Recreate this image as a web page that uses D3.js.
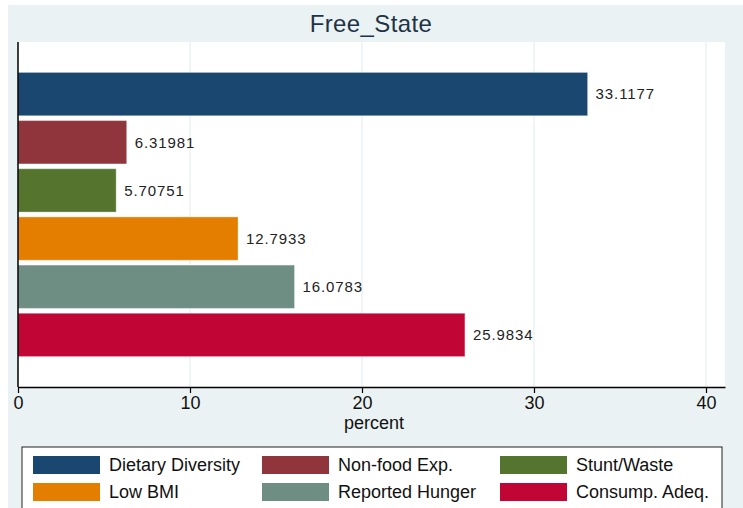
<!DOCTYPE html>
<html>
<head>
<meta charset="UTF-8">
<title>Free_State</title>
<script src="https://cdn.jsdelivr.net/npm/d3@7"></script>
<style>
  body { margin: 0; background: #fff; }
  text { font-family: "Liberation Sans", Arial, sans-serif; }
</style>
</head>
<body>
<div id="chart"></div>
<script>
// data
const categories = ["Dietary Diversity", "Non-food Exp.", "Stunt/Waste", "Low BMI", "Reported Hunger", "Consump. Adeq."];
const values = [33.1177, 6.31981, 5.70751, 12.7933, 16.0783, 25.9834];
const labels = ["33.1177", "6.31981", "5.70751", "12.7933", "16.0783", "25.9834"];
const colors = ["#1a476f", "#90353b", "#55752f", "#e37e00", "#6e8e84", "#c10534"];
const xTicks = [0, 10, 20, 30, 40];

const W = 743, H = 508;
const plot = { left: 18, right: 725, top: 42, bottom: 387 };

const svg = d3.select("#chart").append("svg")
    .attr("width", W).attr("height", H);

// outer light panel
svg.append("rect")
    .attr("x", 8).attr("y", 5)
    .attr("width", W - 8).attr("height", H - 5)
    .attr("fill", "#eaf2f3");

// plot area
svg.append("rect")
    .attr("x", plot.left).attr("y", plot.top)
    .attr("width", plot.right - plot.left).attr("height", plot.bottom - plot.top)
    .attr("fill", "#fff");

const x = d3.scaleLinear()
    .domain([0, (plot.right - plot.left) / 17.2])
    .range([plot.left, plot.right]);

const y = d3.scaleBand()
    .domain(categories)
    .range([plot.top + 28, plot.bottom - 28])
    .paddingInner(0.1)
    .paddingOuter(0.05);

// gridlines
svg.append("g").selectAll("line")
    .data(xTicks.filter(d => d > 0))
    .join("line")
    .attr("x1", d => x(d)).attr("x2", d => x(d))
    .attr("y1", plot.top).attr("y2", plot.bottom)
    .attr("stroke", "#e1eaee").attr("stroke-width", 1);

// bars
svg.append("g").selectAll("rect")
    .data(categories)
    .join("rect")
    .attr("x", x(0))
    .attr("y", d => y(d))
    .attr("width", (d, i) => x(values[i]) - x(0))
    .attr("height", y.bandwidth())
    .attr("fill", (d, i) => colors[i])
    .attr("stroke", "#ffffff").attr("stroke-opacity", 0.35).attr("stroke-width", 1);

// value labels
svg.append("g").selectAll("text")
    .data(categories)
    .join("text")
    .attr("x", (d, i) => x(values[i]) + 8)
    .attr("y", d => y(d) + y.bandwidth() / 2)
    .attr("dy", "0.35em")
    .attr("font-size", 15)
    .attr("letter-spacing", 0.9)
    .attr("fill", "#222")
    .text((d, i) => labels[i]);

// x axis
const xAxis = svg.append("g")
    .attr("transform", `translate(0,${plot.bottom})`)
    .call(d3.axisBottom(x).tickValues(xTicks).tickSize(6).tickSizeOuter(0).tickPadding(3));
xAxis.select(".domain").attr("stroke", "#000").attr("stroke-width", 1.5);
xAxis.selectAll(".tick line").attr("stroke", "#000").attr("stroke-width", 1.2);
xAxis.selectAll(".tick text")
    .attr("font-size", 18).attr("fill", "#111")
    .attr("font-family", "Liberation Sans, Arial, sans-serif");

// left axis line
svg.append("line")
    .attr("x1", plot.left).attr("x2", plot.left)
    .attr("y1", plot.top).attr("y2", plot.bottom)
    .attr("stroke", "#000").attr("stroke-width", 1.5);

// axis title
svg.append("text")
    .attr("x", x(20) + 12).attr("y", 429)
    .attr("text-anchor", "middle")
    .attr("font-size", 18).attr("fill", "#111")
    .text("percent");

// chart title
svg.append("text")
    .attr("x", 371).attr("y", 32)
    .attr("text-anchor", "middle")
    .attr("font-size", 24).attr("letter-spacing", 0.4).attr("fill", "#1f3346")
    .text("Free_State");

// legend
const legend = svg.append("g");
legend.append("rect")
    .attr("x", 22).attr("y", 447)
    .attr("width", 700).attr("height", 70)
    .attr("fill", "#fff").attr("stroke", "#222").attr("stroke-width", 1);

const colX = [33, 262, 500];
const rowY = [456, 483];
const item = legend.selectAll("g.item")
    .data(categories)
    .join("g")
    .attr("class", "item")
    .attr("transform", (d, i) => `translate(${colX[i % 3]},${rowY[Math.floor(i / 3)]})`);
item.append("rect")
    .attr("width", 67).attr("height", 18)
    .attr("fill", (d, i) => colors[i]);
item.append("text")
    .attr("x", 76).attr("y", 9)
    .attr("dy", "0.35em")
    .attr("font-size", 18).attr("fill", "#111")
    .text(d => d);
</script>
</body>
</html>
